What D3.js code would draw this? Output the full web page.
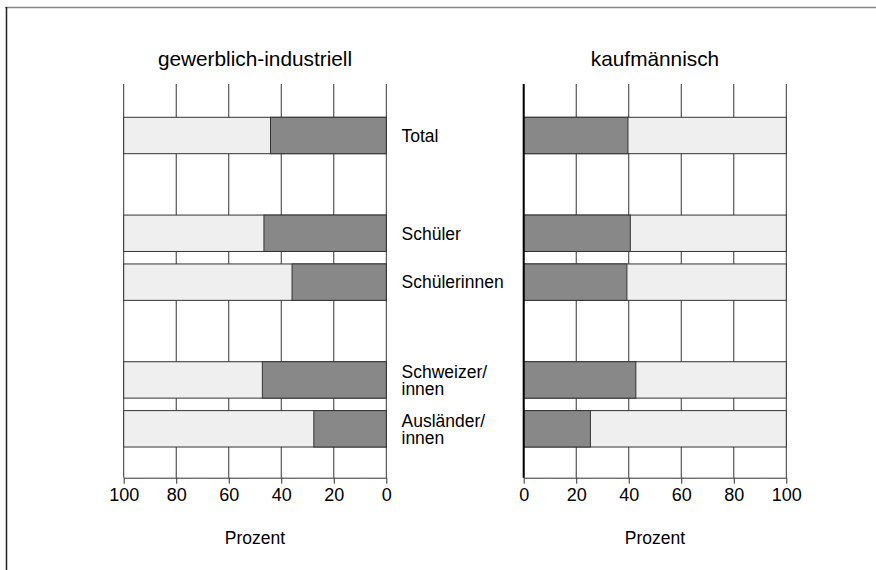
<!DOCTYPE html>
<meta charset="utf-8">
<script src="https://d3js.org/d3.v7.min.js"></script>
<style>
  body { margin: 0; background: #fff; }
  text { font-family: "Liberation Sans", Arial, sans-serif; fill: #000; }
</style>
<div id="chart"></div>
<script>
// data (share in percent, dark part of each bar)
var categories = ["Total", "Schüler", "Schülerinnen", "Schweizer/innen", "Ausländer/innen"];
var labelLines = [["Total"], ["Schüler"], ["Schülerinnen"], ["Schweizer/", "innen"], ["Ausländer/", "innen"]];
var gewerblich = [44.1, 46.6, 35.9, 47.2, 27.6];
var kaufmaennisch = [39.7, 40.6, 39.3, 42.7, 25.4];
var tickValues = [0, 20, 40, 60, 80, 100];
var titles = ["gewerblich-industriell", "kaufmännisch"];
var axisTitle = "Prozent";

var width = 876, height = 570;
var svg = d3.select("#chart").append("svg")
  .attr("width", width)
  .attr("height", height);

// frame
svg.append("line").attr("x1", 5).attr("x2", width).attr("y1", 7.5).attr("y2", 7.5)
  .attr("stroke", "#888").attr("stroke-width", 1.6);
svg.append("line").attr("x1", 6.5).attr("x2", 6.5).attr("y1", 7).attr("y2", height)
  .attr("stroke", "#222").attr("stroke-width", 1.5);

// rows, with empty slots between the groups
var slots = ["Total", "gap1", "Schüler", "Schülerinnen", "gap2", "Schweizer/innen", "Ausländer/innen"];
var y = d3.scalePoint().domain(slots).range([86.6, 477.7]).padding(1);
var barH = 36.4;
var gridTop = 84, gridBottom = 477.7;

var xLeft = d3.scaleLinear().domain([100, 0]).range([123.7, 386.3]);
var xRight = d3.scaleLinear().domain([0, 100]).range([523.7, 786.3]);

function panel(x, values, title) {
  var g = svg.append("g");

  // grid
  g.selectAll(".grid").data(tickValues).enter().append("line")
    .attr("x1", d => x(d)).attr("x2", d => x(d))
    .attr("y1", gridTop).attr("y2", gridBottom)
    .attr("stroke", "#333").attr("stroke-width", 1);

  // light part (whole 0..100)
  g.selectAll(".bg").data(categories).enter().append("rect")
    .attr("x", Math.min(x(0), x(100)))
    .attr("width", Math.abs(x(100) - x(0)))
    .attr("y", d => y(d) - barH / 2)
    .attr("height", barH)
    .attr("fill", "#efefef").attr("stroke", "#333").attr("stroke-width", 1);

  // dark part
  g.selectAll(".dark").data(categories).enter().append("rect")
    .attr("x", (d, i) => Math.min(x(0), x(values[i])))
    .attr("width", (d, i) => Math.abs(x(values[i]) - x(0)))
    .attr("y", d => y(d) - barH / 2)
    .attr("height", barH)
    .attr("fill", "#888").attr("stroke", "#333").attr("stroke-width", 1);

  // axis
  var ax = g.append("g")
    .attr("transform", "translate(0," + gridBottom + ")")
    .call(d3.axisBottom(x).tickValues(tickValues).tickSize(6).tickSizeOuter(0).tickPadding(5));
  ax.select(".domain").attr("stroke", "#333");
  ax.selectAll(".tick line").attr("stroke", "#333");
  ax.selectAll(".tick text")
    .attr("font-family", "Liberation Sans, Arial, sans-serif")
    .attr("font-size", 18).attr("fill", "#000");

  var cx = (x(0) + x(100)) / 2;
  g.append("text").attr("x", cx).attr("y", 66)
    .attr("text-anchor", "middle").attr("font-size", 20.8).text(title);
  g.append("text").attr("x", cx).attr("y", 544)
    .attr("text-anchor", "middle").attr("font-size", 17.5).text(axisTitle);
  return g;
}

panel(xLeft, gewerblich, titles[0]);
var right = panel(xRight, kaufmaennisch, titles[1]);

// zero line of the right panel is heavier
right.append("line")
  .attr("x1", xRight(0)).attr("x2", xRight(0))
  .attr("y1", gridTop).attr("y2", gridBottom)
  .attr("stroke", "#000").attr("stroke-width", 2);

// row labels
var lab = svg.append("g");
categories.forEach(function (c, i) {
  var lines = labelLines[i];
  var first = lines.length === 1 ? y(c) + 6.3 : y(c) - 2;
  lines.forEach(function (l, j) {
    lab.append("text").attr("x", 401.5).attr("y", first + j * 17)
      .attr("font-size", 17.5).text(l);
  });
});
</script>
